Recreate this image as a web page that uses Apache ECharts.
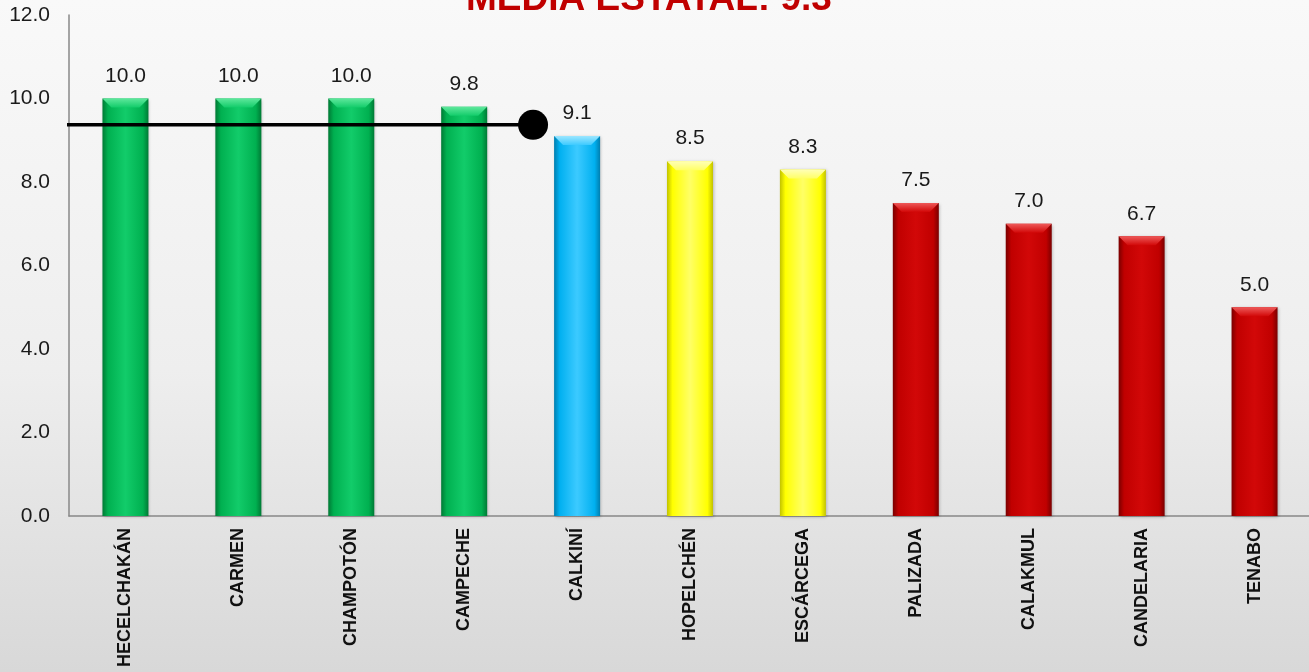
<!DOCTYPE html>
<html>
<head>
<meta charset="utf-8">
<script src="https://cdn.jsdelivr.net/npm/echarts@6/dist/echarts.min.js"></script>
<style>
html,body{margin:0;padding:0;}
#c{width:1309px;height:672px;background:linear-gradient(to bottom,#f9f9f9 0%,#eeeeee 55%,#d8d8d8 100%);}
</style>
</head>
<body>
<div id="c"></div>
<script>
var categories = ['HECELCHAKÁN','CARMEN','CHAMPOTÓN','CAMPECHE','CALKINÍ','HOPELCHÉN','ESCÁRCEGA','PALIZADA','CALAKMUL','CANDELARIA','TENABO'];
var values = [10.0, 10.0, 10.0, 9.8, 9.1, 8.5, 8.3, 7.5, 7.0, 6.7, 5.0];
var yTicks = [0, 2, 4, 6, 8, 10, 12];
var mediaEstatal = 9.37;
var mediaTitle = 'MEDIA ESTATAL: 9.3';
// line extent in category-band units (start, end where the dot sits)
var mediaLineFrom = -0.11, mediaLineTo = 4.11;

function baseColor(v){
  if (v >= 9.5) return ['#007a35','#00b050','#12cc6a','#5ee89c'];
  if (v >= 9.0) return ['#007fb0','#00b0f0','#3ccaff','#9be6ff'];
  if (v >= 8.0) return ['#c2c200','#ffff00','#ffff66','#ffffb8'];
  return ['#7a0000','#c00000','#d20808','#ee5a5a'];
}
function barStyle(v){
  var c = baseColor(v);
  return {
    color: new echarts.graphic.LinearGradient(0,0,1,0,[
      {offset:0,color:c[0]},{offset:0.12,color:c[1]},{offset:0.5,color:c[2]},
      {offset:0.88,color:c[1]},{offset:1,color:c[0]}
    ]),
    shadowColor:'rgba(0,0,0,0.25)', shadowBlur:3, shadowOffsetX:1, shadowOffsetY:1
  };
}
function capStyle(v){
  var c = baseColor(v);
  return {
    color: new echarts.graphic.LinearGradient(0,0,0,1,[
      {offset:0,color:c[3]},{offset:1,color:c[2]}
    ])
  };
}

var chart = echarts.init(document.getElementById('c'), null, {renderer:'canvas'});
chart.setOption({
  animation:false,
  textStyle:{fontFamily:'Liberation Sans, Arial, sans-serif'},
  title:{
    text: mediaTitle, left:461, top:-24,
    textStyle:{color:'#c00000', fontSize:37, fontWeight:'bold', fontFamily:'Liberation Sans, Arial, sans-serif'}
  },
  grid:{left:69, right:-2, top:15, bottom:156, containLabel:false, outerBoundsMode:'none'},
  xAxis:[{
    type:'category', data:categories,
    axisLine:{lineStyle:{color:'#888', width:1.5}},
    axisTick:{show:false},
    axisLabel:{interval:0, rotate:90, margin:12, fontSize:18, fontWeight:'bold', color:'#111'}
  },{
    type:'value', min:0, max:categories.length, show:false
  }],
  yAxis:{
    type:'value', min:yTicks[0], max:yTicks[yTicks.length-1], interval:yTicks[1]-yTicks[0],
    splitLine:{show:false},
    axisLine:{show:true, lineStyle:{color:'#888', width:1.5}},
    axisTick:{show:false},
    axisLabel:{margin:19, fontSize:21, color:'#1a1a1a', formatter:function(v){return v.toFixed(1);}}
  },
  series:[{
    type:'bar', barWidth:46,
    data: values.map(function(v){return {value:v, itemStyle:barStyle(v)};}),
    label:{show:true, position:'top', distance:12, fontSize:21, color:'#1a1a1a',
      formatter:function(p){return p.value.toFixed(1);}}
  },{
    type:'pictorialBar', barGap:'-100%', z:3,
    symbol:'path://M0,0 L46,0 L37,9 L9,9 Z',
    symbolSize:[46,9], symbolPosition:'end', symbolOffset:[0,0],
    data: values.map(function(v){return {value:v, itemStyle:capStyle(v)};}),
    silent:true
  },{
    type:'line', xAxisIndex:1, clip:false, z:5,
    lineStyle:{color:'#000', width:3.5},
    itemStyle:{color:'#000'},
    data:[
      {value:[mediaLineFrom, mediaEstatal], symbol:'none'},
      {value:[mediaLineTo, mediaEstatal], symbol:'circle', symbolSize:30}
    ]
  }]
});
</script>
</body>
</html>
